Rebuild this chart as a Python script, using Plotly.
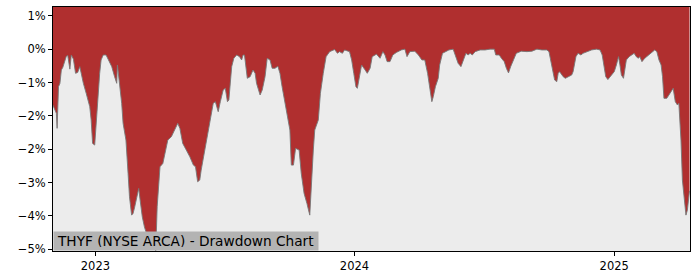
import plotly.graph_objects as go

# Drawdown series (percent)
dates = [
    "2022-11-02", "2022-11-07", "2022-11-08", "2022-11-10", "2022-11-12", "2022-11-14", "2022-11-16",
    "2022-11-19", "2022-11-21", "2022-11-23", "2022-11-26", "2022-11-28", "2022-12-01", "2022-12-04",
    "2022-12-07", "2022-12-10", "2022-12-12", "2022-12-15", "2022-12-19", "2022-12-24", "2022-12-26",
    "2022-12-28", "2022-12-31", "2023-01-02", "2023-01-05", "2023-01-07", "2023-01-09", "2023-01-12",
    "2023-01-16", "2023-01-19", "2023-01-24", "2023-01-28", "2023-01-31", "2023-02-01", "2023-02-03",
    "2023-02-07", "2023-02-09", "2023-02-13", "2023-02-16", "2023-02-18", "2023-02-21", "2023-02-23",
    "2023-02-25", "2023-03-01", "2023-03-03", "2023-03-05", "2023-03-08", "2023-03-11", "2023-03-15",
    "2023-03-18", "2023-03-21", "2023-03-24", "2023-03-27", "2023-03-29", "2023-04-02", "2023-04-06",
    "2023-04-10", "2023-04-13", "2023-04-18", "2023-04-23", "2023-04-27", "2023-04-30", "2023-05-04",
    "2023-05-09", "2023-05-14", "2023-05-19", "2023-05-22", "2023-05-25", "2023-05-28", "2023-05-30",
    "2023-06-04", "2023-06-09", "2023-06-14", "2023-06-16", "2023-06-19", "2023-06-23", "2023-06-26",
    "2023-06-30", "2023-07-03", "2023-07-06", "2023-07-08", "2023-07-12", "2023-07-15", "2023-07-19",
    "2023-07-23", "2023-07-26", "2023-07-28", "2023-07-30", "2023-08-03", "2023-08-07", "2023-08-11",
    "2023-08-14", "2023-08-16", "2023-08-21", "2023-08-24", "2023-08-28", "2023-08-31", "2023-09-04",
    "2023-09-07", "2023-09-11", "2023-09-15", "2023-09-18", "2023-09-21", "2023-09-25", "2023-09-29",
    "2023-10-02", "2023-10-04", "2023-10-07", "2023-10-10", "2023-10-15", "2023-10-18", "2023-10-22",
    "2023-10-26", "2023-10-30", "2023-11-04", "2023-11-06", "2023-11-11", "2023-11-14", "2023-11-18",
    "2023-11-22", "2023-11-27", "2023-12-04", "2023-12-08", "2023-12-11", "2023-12-15", "2023-12-18",
    "2023-12-25", "2023-12-28", "2023-12-31", "2024-01-03", "2024-01-05", "2024-01-08", "2024-01-11",
    "2024-01-16", "2024-01-19", "2024-01-23", "2024-01-26", "2024-02-01", "2024-02-06", "2024-02-10",
    "2024-02-13", "2024-02-16", "2024-02-20", "2024-02-24", "2024-02-29", "2024-03-07", "2024-03-12",
    "2024-03-15", "2024-03-19", "2024-03-26", "2024-03-31", "2024-04-05", "2024-04-09", "2024-04-13",
    "2024-04-16", "2024-04-19", "2024-04-21", "2024-04-24", "2024-04-28", "2024-04-30", "2024-05-04",
    "2024-05-08", "2024-05-13", "2024-05-19", "2024-05-23", "2024-05-26", "2024-05-30", "2024-06-02",
    "2024-06-06", "2024-06-09", "2024-06-12", "2024-06-15", "2024-06-19", "2024-06-26", "2024-07-03",
    "2024-07-10", "2024-07-16", "2024-07-18", "2024-07-23", "2024-07-26", "2024-07-30", "2024-08-02",
    "2024-08-05", "2024-08-08", "2024-08-12", "2024-08-16", "2024-08-23", "2024-08-31", "2024-09-07",
    "2024-09-14", "2024-09-21", "2024-09-28", "2024-10-01", "2024-10-04", "2024-10-07", "2024-10-09",
    "2024-10-12", "2024-10-14", "2024-10-16", "2024-10-21", "2024-10-24", "2024-10-28", "2024-11-02",
    "2024-11-04", "2024-11-08", "2024-11-11", "2024-11-15", "2024-11-18", "2024-11-23", "2024-11-30",
    "2024-12-07", "2024-12-12", "2024-12-15", "2024-12-18", "2024-12-20", "2024-12-23", "2024-12-26",
    "2024-12-29", "2025-01-01", "2025-01-04", "2025-01-07", "2025-01-09", "2025-01-11", "2025-01-14",
    "2025-01-16", "2025-01-18", "2025-01-22", "2025-01-25", "2025-01-29", "2025-02-01", "2025-02-04",
    "2025-02-06", "2025-02-09", "2025-02-13", "2025-02-18", "2025-02-23", "2025-02-27", "2025-03-02",
    "2025-03-05", "2025-03-08", "2025-03-10", "2025-03-12", "2025-03-16", "2025-03-19", "2025-03-22",
    "2025-03-25", "2025-03-28", "2025-03-31", "2025-04-02", "2025-04-05", "2025-04-07", "2025-04-10",
    "2025-04-12", "2025-04-14", "2025-04-16", "2025-04-17",
]
drawdown = [
    -1.34, -1.54, -1.90, -0.90, -0.82, -0.50, -0.44,
    -0.28, -0.17, -0.15, -0.48, -0.14, -0.24, -0.58,
    -0.56, -0.42, -0.62, -0.82, -1.06, -1.38, -1.70,
    -2.26, -2.30, -1.78, -1.06, -0.58, -0.26, -0.14,
    -0.14, -0.26, -0.42, -0.66, -0.82, -0.38, -0.66,
    -1.30, -1.78, -2.18, -2.98, -3.54, -3.98, -3.94,
    -3.81, -3.54, -3.34, -3.62, -4.02, -4.26, -4.50,
    -4.65, -4.50, -4.72, -4.84, -3.78, -2.82, -2.74,
    -2.42, -2.18, -2.10, -1.94, -1.78, -1.90, -2.26,
    -2.42, -2.58, -2.78, -2.82, -3.18, -3.14, -2.90,
    -2.42, -1.94, -1.46, -1.30, -1.26, -1.50, -1.26,
    -0.98, -0.94, -1.26, -1.22, -0.42, -0.22, -0.14,
    -0.18, -0.26, -0.14, -0.14, -0.70, -0.66, -0.50,
    -0.58, -0.82, -1.10, -0.98, -0.66, -0.22, -0.26,
    -0.46, -0.46, -0.41, -0.58, -0.90, -1.26, -1.62,
    -1.94, -2.78, -2.78, -2.38, -2.42, -2.98, -3.46,
    -3.70, -3.98, -2.42, -1.94, -1.70, -1.06, -0.58,
    -0.18, -0.06, -0.01, -0.10, -0.06, -0.10, -0.02,
    -0.06, -0.26, -0.58, -0.90, -0.94, -0.66, -0.38,
    -0.50, -0.58, -0.46, -0.18, -0.12, -0.22, -0.06,
    -0.14, -0.30, -0.30, -0.14, -0.08, -0.02, 0.00,
    -0.18, -0.06, -0.05, -0.14, -0.26, -0.26, -0.58,
    -0.98, -1.26, -1.14, -0.90, -0.70, -0.38, -0.10,
    -0.06, -0.02, 0.00, -0.18, -0.34, -0.42, -0.30,
    -0.10, -0.14, -0.10, -0.14, -0.06, -0.02, -0.02,
    0.00, 0.00, -0.14, -0.14, -0.22, -0.30, -0.46,
    -0.57, -0.42, -0.26, -0.10, -0.05, -0.06, -0.05,
    0.00, -0.02, -0.02, -0.06, -0.30, -0.58, -0.74,
    -0.78, -0.58, -0.54, -0.66, -0.70, -0.66, -0.62,
    -0.54, -0.18, -0.10, -0.14, -0.10, -0.06, -0.02,
    0.00, -0.02, -0.14, -0.42, -0.66, -0.73, -0.66,
    -0.58, -0.54, -0.38, -0.18, -0.38, -0.62, -0.70,
    -0.42, -0.26, -0.18, -0.14, -0.10, -0.18, -0.22,
    -0.18, -0.30, -0.22, -0.14, -0.08, -0.02, -0.06,
    -0.26, -0.38, -0.66, -1.18, -1.18, -1.10, -1.02,
    -0.94, -1.26, -1.34, -1.30, -2.18, -3.14, -3.62,
    -3.98, -3.86, -3.46, -3.40,
]

y_tick_vals = [0.8, 0.0, -0.8, -1.6, -2.4, -3.2, -4.0, -4.8]
y_tick_text = ["1%", "0%", "\u22121%", "\u22122%", "\u22122%", "\u22123%", "\u22124%", "\u22125%"]
x_tick_vals = ["2023-01-01", "2024-01-01", "2025-01-01"]
x_tick_text = ["2023", "2024", "2025"]

Y_MIN, Y_MAX = -4.84, 1.01
X_RANGE = ["2022-11-02 05:30", "2025-04-17 17:00"]
TITLE = "THYF (NYSE ARCA) - Drawdown Chart"

RED = "#b02f2f"
BG = "#ececec"

fig = go.Figure()
fig.add_trace(go.Scatter(
    x=dates, y=[Y_MAX] * len(dates), mode="lines",
    line=dict(width=0, color=RED), hoverinfo="skip", showlegend=False,
))
fig.add_trace(go.Scatter(
    x=dates, y=drawdown, mode="lines", fill="tonexty", fillcolor=RED,
    line=dict(width=1, color="rgba(120,120,120,0.9)"), showlegend=False,
))

fig.add_annotation(
    text=TITLE, xref="paper", yref="paper", x=0, y=0,
    xanchor="left", yanchor="bottom", showarrow=False,
    font=dict(family="DejaVu Sans", size=13.7, color="black"),
    bgcolor="#b3b3b3", borderpad=3, width=258, height=12, align="left",
)

axis_common = dict(
    showline=True, mirror=True, linecolor="black", linewidth=1,
    ticks="outside", ticklen=4, tickcolor="black", tickwidth=1,
    showgrid=False, zeroline=False,
    tickfont=dict(family="DejaVu Sans", size=11.5, color="black"),
)

fig.update_layout(
    width=700, height=280,
    margin=dict(l=53, r=10, t=7, b=29),
    paper_bgcolor="white", plot_bgcolor=BG,
    font=dict(family="DejaVu Sans"),
    xaxis=dict(range=X_RANGE, type="date", tickmode="array",
               tickvals=x_tick_vals, ticktext=x_tick_text, **axis_common),
    yaxis=dict(range=[Y_MIN, Y_MAX], tickmode="array",
               tickvals=y_tick_vals, ticktext=y_tick_text, **axis_common),
)

fig.write_html("out.html")
